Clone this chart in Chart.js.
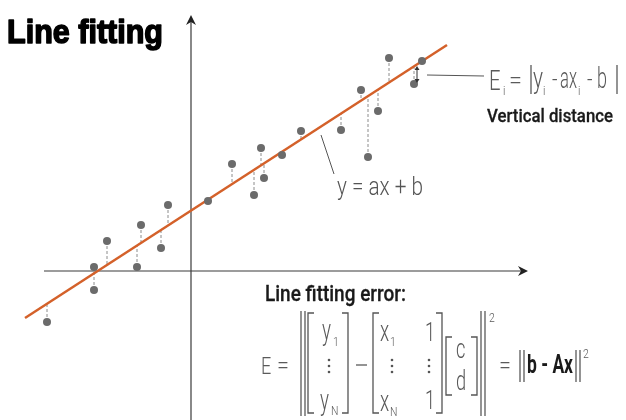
<!DOCTYPE html>
<html>
<head>
<meta charset="utf-8">
<script src="https://cdn.jsdelivr.net/npm/chart.js@4"></script>
<style>
html, body { margin: 0; padding: 0; background: #fff; }
#wrap { width: 626px; height: 420px; position: relative; }
</style>
</head>
<body>
<div id="wrap"><canvas id="grafik"></canvas></div>
<script>
// sample points (axis units)
const titik_x = [-7.2, -4.85, -4.85, -4.2, -2.7, -2.5, -1.5, -1.15, 0.85, 2.05, 3.15, 3.5, 3.65, 4.55, 5.5, 7.5, 8.5, 8.85, 9.35, 9.9, 11.15, 11.55];
const titik_y = [-2.55, 0.2, -0.95, 1.5, 0.2, 2.3, 1.15, 3.3, 3.5, 5.35, 3.8, 6.15, 4.65, 5.8, 7.0, 7.05, 9.05, 5.7, 8.0, 10.65, 9.35, 10.5];

// fitted line y = a*x + b
const garis_a = 0.647;
const garis_b = 3.02;
const garis_x = [-8.3, 12.8];

// axis extents
const sumbu_x = [-7.35, 16.7];
const sumbu_y = [-7.6, 12.65];

const warnaGaris = '#d4612a';
const warnaTitik = '#6b6b6b';
const warnaSumbu = '#3a3a3a';

function garisY(x) { return garis_a * x + garis_b; }

// dashed residuals: point -> line, with null gaps between them
let residu = [];
titik_x.forEach(function(x, i) {
    residu.push({x: x, y: titik_y[i]});
    residu.push({x: x, y: garisY(x)});
    residu.push({x: x, y: null});
});

function tulis(ctx, str, x, y, size, weight, color, sx) {
    ctx.save();
    ctx.font = weight + ' ' + size + 'px Roboto, "Liberation Sans", sans-serif';
    ctx.fillStyle = color;
    ctx.textBaseline = 'alphabetic';
    ctx.textAlign = 'left';
    ctx.translate(x, y);
    ctx.scale(sx, 1);
    ctx.fillText(str, 0, 0);
    ctx.restore();
}

// squeeze text to a given width
function tulisLebar(ctx, str, x, y, font, color, w, tebal) {
    ctx.save();
    ctx.font = font;
    ctx.fillStyle = color;
    ctx.textBaseline = 'alphabetic';
    let m = ctx.measureText(str).width;
    ctx.translate(x, y);
    ctx.scale(w / m, 1);
    ctx.fillText(str, 0, 0);
    if (tebal) {
        ctx.strokeStyle = color;
        ctx.lineWidth = tebal;
        ctx.lineJoin = 'round';
        ctx.strokeText(str, 0, 0);
    }
    ctx.restore();
}

function garis(ctx, x1, y1, x2, y2, lw, color) {
    ctx.save();
    ctx.beginPath();
    ctx.moveTo(x1, y1);
    ctx.lineTo(x2, y2);
    ctx.lineWidth = lw;
    ctx.strokeStyle = color;
    ctx.stroke();
    ctx.restore();
}

function kurungKiri(ctx, x, y1, y2) {
    ctx.save();
    ctx.beginPath();
    ctx.moveTo(x + 6, y1); ctx.lineTo(x, y1); ctx.lineTo(x, y2); ctx.lineTo(x + 6, y2);
    ctx.lineWidth = 1.3; ctx.strokeStyle = '#555'; ctx.stroke();
    ctx.restore();
}
function kurungKanan(ctx, x, y1, y2) {
    ctx.save();
    ctx.beginPath();
    ctx.moveTo(x - 6, y1); ctx.lineTo(x, y1); ctx.lineTo(x, y2); ctx.lineTo(x - 6, y2);
    ctx.lineWidth = 1.3; ctx.strokeStyle = '#555'; ctx.stroke();
    ctx.restore();
}
function titikVertikal(ctx, x, y) {
    ctx.save();
    ctx.fillStyle = '#555';
    [-6, 0, 6].forEach(function(d) {
        ctx.beginPath(); ctx.arc(x, y + d, 1.3, 0, Math.PI * 2); ctx.fill();
    });
    ctx.restore();
}

const anotasi = {
    id: 'anotasi',
    afterDatasetsDraw(chart) {
        const ctx = chart.ctx;
        const sx = chart.scales.x, sy = chart.scales.y;

        // arrow heads on the axes
        ctx.save();
        ctx.fillStyle = '#222';
        let ax = sx.getPixelForValue(sumbu_x[1]), ay = sy.getPixelForValue(0);
        ctx.beginPath();
        ctx.moveTo(ax + 3, ay); ctx.lineTo(ax - 7, ay - 5); ctx.lineTo(ax - 4, ay); ctx.lineTo(ax - 7, ay + 5);
        ctx.closePath(); ctx.fill();
        let bx = sx.getPixelForValue(0), by = sy.getPixelForValue(sumbu_y[1]);
        ctx.beginPath();
        ctx.moveTo(bx, by - 3); ctx.lineTo(bx - 5, by + 7); ctx.lineTo(bx, by + 4); ctx.lineTo(bx + 5, by + 7);
        ctx.closePath(); ctx.fill();
        ctx.restore();

        // title
        tulisLebar(ctx, 'Line fitting', 7, 43, 'bold 34px "Liberation Sans", sans-serif', '#000', 156, 1.6);

        // y = ax + b label
        garis(ctx, 321, 135, 334, 174, 1, '#555');
        tulisLebar(ctx, 'y = ax + b', 337, 195, '300 26px Roboto, sans-serif', '#555', 86);

        // E_i label
        garis(ctx, 427, 75, 484, 76, 1, '#555');
        garis(ctx, 417, 68, 417, 81, 1, '#333');
        ctx.save();
        ctx.fillStyle = '#333';
        ctx.beginPath(); ctx.moveTo(417, 66); ctx.lineTo(414.5, 70); ctx.lineTo(419.5, 70); ctx.fill();
        ctx.beginPath(); ctx.moveTo(417, 83); ctx.lineTo(414.5, 79); ctx.lineTo(419.5, 79); ctx.fill();
        ctx.restore();
        const g = '#5a5a5a';
        tulis(ctx, 'E', 489, 90, 27, 300, g, 0.75);
        tulis(ctx, 'i', 503, 95, 13, 300, g, 0.8);
        tulis(ctx, '=', 509, 89, 26, 300, g, 0.9);
        garis(ctx, 531, 65, 531, 94, 1.3, g);
        tulisLebar(ctx, 'y', 533, 88, '300 30px Roboto, sans-serif', g, 10);
        tulis(ctx, 'i', 543, 95, 13, 300, g, 0.8);
        tulis(ctx, '-', 552, 87, 24, 300, g, 0.8);
        tulisLebar(ctx, 'ax', 560, 88, '300 30px Roboto, sans-serif', g, 17);
        tulis(ctx, 'i', 578, 95, 13, 300, g, 0.8);
        tulis(ctx, '-', 587, 87, 24, 300, g, 0.8);
        tulisLebar(ctx, 'b', 597, 88, '300 30px Roboto, sans-serif', g, 10);
        garis(ctx, 617, 65, 617, 94, 1.3, g);
        tulisLebar(ctx, 'Vertical distance', 487, 122, '500 19px Roboto, sans-serif', '#1a1a1a', 126, 0.3);

        // error formula
        tulisLebar(ctx, 'Line fitting error:', 265, 301, '500 22px Roboto, sans-serif', '#1a1a1a', 141, 0.3);
        tulis(ctx, 'E', 261, 374, 24, 300, g, 0.75);
        tulis(ctx, '=', 277, 373, 24, 300, g, 0.9);
        garis(ctx, 301, 311, 301, 416, 1.3, g);
        garis(ctx, 305, 311, 305, 416, 1.3, g);
        kurungKiri(ctx, 308, 313, 413);
        tulis(ctx, 'y', 322, 340, 29, 300, g, 0.65);
        tulis(ctx, '1', 333, 346, 13, 300, g, 0.8);
        titikVertikal(ctx, 329, 366);
        tulis(ctx, 'y', 320, 410, 29, 300, g, 0.65);
        tulis(ctx, 'N', 331, 415, 13, 300, g, 0.8);
        kurungKanan(ctx, 348, 313, 413);
        garis(ctx, 356, 365, 367, 365, 1.3, g);
        kurungKiri(ctx, 373, 313, 413);
        tulis(ctx, 'x', 380, 341, 29, 300, g, 0.65);
        tulis(ctx, '1', 390, 346, 13, 300, g, 0.8);
        titikVertikal(ctx, 392, 366);
        tulis(ctx, 'x', 380, 411, 29, 300, g, 0.65);
        tulis(ctx, 'N', 390, 416, 13, 300, g, 0.8);
        tulis(ctx, '1', 425, 341, 26, 300, g, 0.7);
        titikVertikal(ctx, 429, 366);
        tulis(ctx, '1', 425, 409, 26, 300, g, 0.7);
        kurungKanan(ctx, 442, 313, 413);
        kurungKiri(ctx, 446, 337, 395);
        tulis(ctx, 'c', 456, 358, 28, 300, g, 0.65);
        tulis(ctx, 'd', 456, 390, 28, 300, g, 0.65);
        kurungKanan(ctx, 477, 337, 395);
        garis(ctx, 481, 311, 481, 416, 1.3, g);
        garis(ctx, 485, 311, 485, 416, 1.3, g);
        tulis(ctx, '2', 489, 322, 13, 300, g, 0.8);
        tulis(ctx, '=', 499, 373, 24, 300, g, 0.9);
        garis(ctx, 520, 350, 520, 382, 1.3, g);
        garis(ctx, 524, 350, 524, 382, 1.3, g);
        tulisLebar(ctx, 'b - Ax', 527, 373, 'bold 25px Roboto, sans-serif', '#1a1a1a', 46);
        garis(ctx, 576, 350, 576, 382, 1.3, g);
        garis(ctx, 580, 350, 580, 382, 1.3, g);
        tulis(ctx, '2', 583, 358, 13, 300, g, 0.8);
    }
};

new Chart(document.getElementById('grafik'), {
    type: 'line',
    data: {
        datasets: [
            {
                // points on top
                type: 'scatter',
                data: titik_x.map((x, i) => ({x: x, y: titik_y[i]})),
                pointRadius: 4,
                pointBackgroundColor: warnaTitik,
                pointBorderWidth: 0,
                showLine: false,
                order: 0
            },
            {
                data: garis_x.map(x => ({x: x, y: garisY(x)})),
                borderColor: warnaGaris,
                borderWidth: 2.5,
                pointRadius: 0,
                order: 1
            },
            {
                data: residu,
                borderColor: '#8c8c8c',
                borderWidth: 1,
                borderDash: [3, 2],
                pointRadius: 0,
                spanGaps: false,
                order: 2
            },
            {
                data: sumbu_x.map(x => ({x: x, y: 0})),
                borderColor: warnaSumbu,
                borderWidth: 1.2,
                pointRadius: 0,
                order: 3
            },
            {
                data: sumbu_y.map(y => ({x: 0, y: y})),
                borderColor: warnaSumbu,
                borderWidth: 1.2,
                pointRadius: 0,
                order: 3
            }
        ]
    },
    options: {
        responsive: true,
        maintainAspectRatio: false,
        animation: false,
        layout: { padding: 0, autoPadding: false },
        scales: {
            x: { type: 'linear', min: -9.55, max: 21.75, display: false },
            y: { type: 'linear', min: -7.45, max: 13.55, display: false }
        },
        plugins: {
            legend: { display: false },
            tooltip: { enabled: false }
        }
    },
    plugins: [anotasi]
});
</script>
</body>
</html>
